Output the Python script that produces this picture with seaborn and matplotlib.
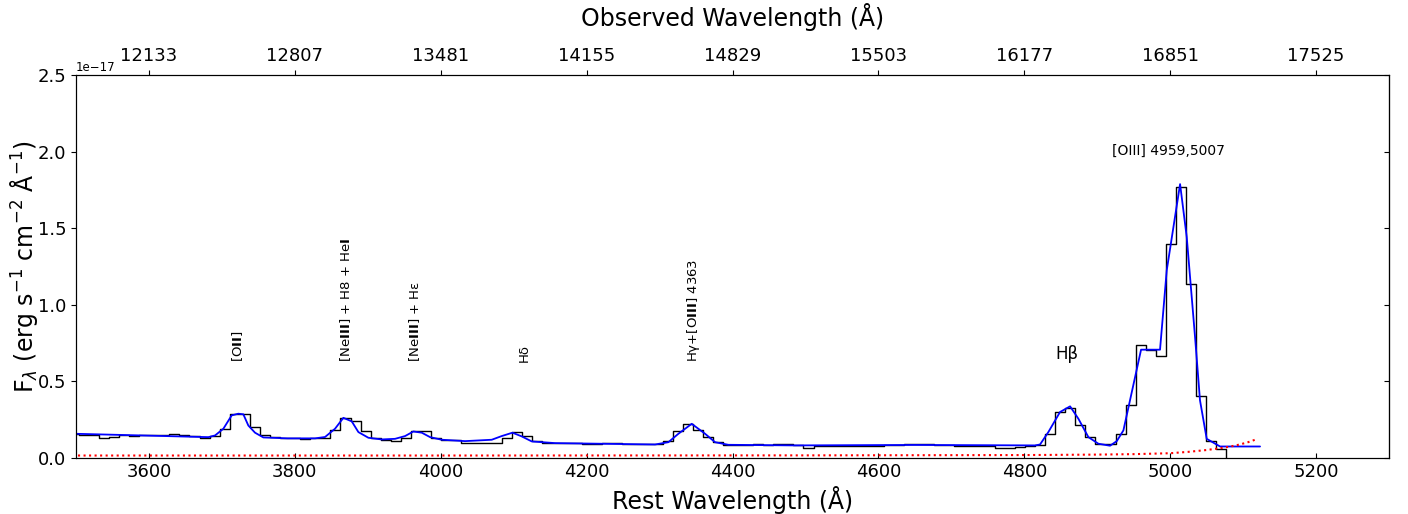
import numpy as np
import pandas as pd
import seaborn as sns
import matplotlib.pyplot as plt

sns.set_style('ticks')
plt.rcParams['font.family'] = ['DejaVu Sans']
plt.rcParams.update({'text.color': 'black', 'axes.labelcolor': 'black',
                     'xtick.color': 'black', 'ytick.color': 'black',
                     'axes.edgecolor': 'black'})

# binned spectrum: bin centres (rest frame, A) and flux in 1e-17 erg/s/cm2/A
wave_start = 3483.0
bin_width = 13.8
flux = [0.154, 0.154, 0.150, 0.147, 0.130, 0.136, 0.147, 0.141, 0.147, 0.147,
        0.147, 0.154, 0.147, 0.143, 0.130, 0.143, 0.191, 0.287, 0.287, 0.201,
        0.148, 0.137, 0.132, 0.130, 0.124, 0.128, 0.130, 0.180, 0.262, 0.241,
        0.175, 0.130, 0.119, 0.108, 0.130, 0.175, 0.175, 0.130, 0.119, 0.115,
        0.099, 0.099, 0.101, 0.101, 0.130, 0.169, 0.143, 0.108, 0.099, 0.099,
        0.097, 0.097, 0.093, 0.093, 0.097, 0.099, 0.093, 0.088, 0.090, 0.093,
        0.112, 0.173, 0.223, 0.184, 0.136, 0.103, 0.085, 0.085, 0.085, 0.088,
        0.085, 0.090, 0.088, 0.082, 0.068, 0.078, 0.080, 0.080, 0.080, 0.080,
        0.076, 0.076, 0.082, 0.082, 0.088, 0.090, 0.090, 0.085, 0.086, 0.080,
        0.080, 0.078, 0.076, 0.068, 0.068, 0.070, 0.076, 0.082, 0.158,
        0.300, 0.328, 0.218, 0.136, 0.092, 0.092, 0.158, 0.344, 0.740, 0.702,
        0.664, 1.400, 1.770, 1.134, 0.402, 0.110, 0.056, -0.050]
wave = wave_start + bin_width * np.arange(len(flux))

# best-fit model (blue)
model_wave = [3490, 3498.6, 3590, 3681.4, 3690.6, 3702, 3713.4, 3722.5, 3729.4, 3736.2,
              3745.4, 3756.8, 3790, 3827.7, 3841.4, 3855.1, 3866.5, 3878.0, 3887.1, 3900.8,
              3919.1, 3937.4, 3951.1, 3962.5, 3974.0, 3985.4, 4001.4, 4033.4, 4069.9, 4083.6,
              4098.3, 4111.0, 4124.8, 4156.8, 4293.8, 4312.1, 4325.8, 4344.1, 4362.4, 4376.1,
              4394.3, 4485.7, 4650, 4814.8, 4821.6, 4833.0, 4849.0, 4862.8, 4874.2, 4887.9,
              4901.6, 4917.6, 4926.8, 4935.9, 4951.9, 4960.1, 4986.1, 4995.3, 5013.6, 5022.7,
              5034.1, 5040.9, 5050.1, 5068.4, 5123.2]
model_flux = [0.158, 0.158, 0.147, 0.136, 0.147, 0.191, 0.278, 0.289, 0.285, 0.212,
              0.165, 0.134, 0.128, 0.128, 0.137, 0.191, 0.262, 0.239, 0.169, 0.132,
              0.121, 0.125, 0.143, 0.173, 0.165, 0.136, 0.119, 0.110, 0.119, 0.143,
              0.165, 0.141, 0.108, 0.097, 0.088, 0.103, 0.158, 0.223, 0.158, 0.103,
              0.086, 0.082, 0.085, 0.082, 0.088, 0.169, 0.300, 0.337, 0.256, 0.136,
              0.093, 0.080, 0.110, 0.180, 0.528, 0.707, 0.707, 1.225, 1.788, 1.443,
              0.790, 0.376, 0.125, 0.075, 0.075]

# continuum (red dotted)
cont_wave = [3480, 4000, 4500, 4800, 4900, 4950, 5000, 5025, 5050, 5075, 5090, 5105, 5120]
cont_flux = [0.016, 0.016, 0.017, 0.019, 0.022, 0.025, 0.031, 0.040, 0.052, 0.068, 0.082, 0.100, 0.125]

# line labels
vlabels = ['[O$\\mathbf{II}$]', '[Ne$\\mathbf{III}$] + H8 + He$\\mathbf{I}$',
           '[Ne$\\mathbf{III}$] + H\u03b5', 'H\u03b4', 'H\u03b3+[O$\\mathbf{III}$] 4363']
vlabel_wave = [3721, 3870, 3964, 4115, 4346]

rest_ticks = [3600, 3800, 4000, 4200, 4400, 4600, 4800, 5000, 5200]
obs_labels = ['12133', '12807', '13481', '14155', '14829', '15503', '16177', '16851', '17525']
y_ticks = [0.0, 0.5, 1.0, 1.5, 2.0, 2.5]

scale = 1e-17
spec = pd.DataFrame({'wave': wave, 'flux': np.array(flux) * scale})
model = pd.DataFrame({'wave': model_wave, 'flux': np.array(model_flux) * scale})
cont = pd.DataFrame({'wave': cont_wave, 'flux': np.array(cont_flux) * scale})

fig = plt.figure(figsize=(14.08, 5.14), dpi=100)
ax = fig.add_axes([0.054, 0.109, 0.9325, 0.745])

sns.lineplot(data=spec, x='wave', y='flux', ax=ax, color='black', lw=1.0,
             drawstyle='steps-mid', estimator=None, sort=False)
sns.lineplot(data=model, x='wave', y='flux', ax=ax, color='blue', lw=1.3,
             estimator=None, sort=False)
sns.lineplot(data=cont, x='wave', y='flux', ax=ax, color='red', lw=1.5,
             linestyle=':', estimator=None, sort=False)

ax.set_xlim(3500, 5300)
ax.set_ylim(0, 2.5e-17)
ax.set_xticks(rest_ticks)
ax.set_yticks([v * scale for v in y_ticks])
ax.tick_params(axis='x', direction='in', labelsize=13)
ax.tick_params(axis='y', direction='out', labelsize=13)
ax.yaxis.get_offset_text().set_fontsize(8.5)
ax.set_xlabel('Rest Wavelength (\u00c5)', fontsize=17)
ax.set_ylabel('F$_\\lambda$ (erg s$^{-1}$ cm$^{-2}$ \u00c5$^{-1}$)', fontsize=17, labelpad=-2)

for lab, w in zip(vlabels, vlabel_wave):
    ax.text(w, 0.625 * scale, lab, rotation=90, ha='center', va='bottom', fontsize=9.5)
ax.text(4859, 0.676 * scale, 'H\u03b2', ha='center', va='center', fontsize=12)
ax.text(4998, 2.005 * scale, '[OIII] 4959,5007', ha='center', va='center', fontsize=10)

# right-hand ticks pointing inwards
ax_r = ax.secondary_yaxis('right')
ax_r.set_yticks([v * scale for v in y_ticks])
ax_r.tick_params(direction='in', labelright=False)
ax_r.yaxis.get_offset_text().set_visible(False)

# observed-frame axis on top
ax_top = ax.twiny()
ax_top.set_xlim(ax.get_xlim())
ax_top.set_xticks(rest_ticks)
ax_top.set_xticklabels(obs_labels)
ax_top.tick_params(axis='x', direction='out', labelsize=13)
ax_top.set_xlabel('Observed Wavelength (\u00c5)', fontsize=17, labelpad=15)

fig.savefig('out.png', dpi=100)
